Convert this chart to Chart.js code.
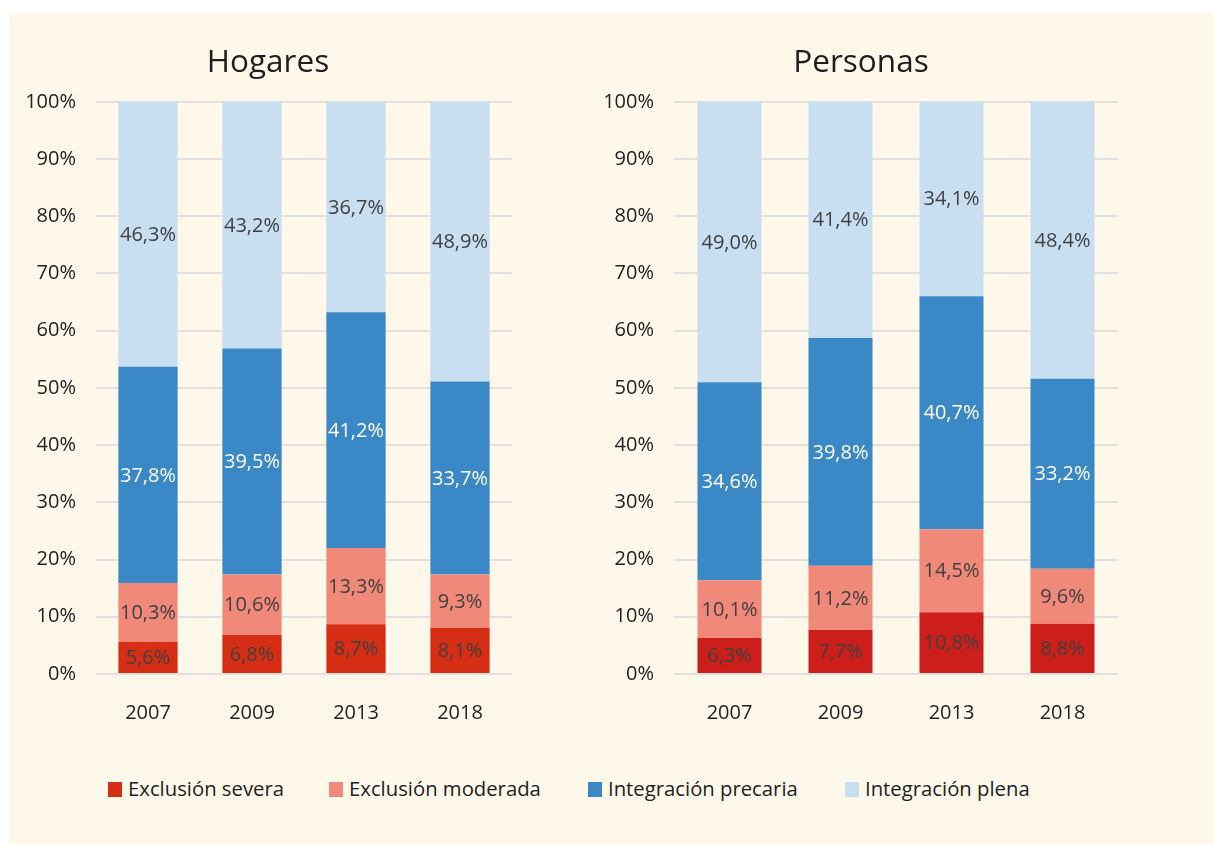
<!DOCTYPE html>
<html lang="es">
<head>
<meta charset="utf-8">
<title>Hogares y Personas</title>
<script src="https://cdn.jsdelivr.net/npm/chart.js@4.4.0/dist/chart.umd.js"></script>
<style>
  body { margin: 0; background: #ffffff; font-family: "Open Sans", sans-serif; }
  #panel { position: absolute; left: 9px; top: 13px; width: 1205px; height: 831px; background: #fef8eb; }
  .box { position: absolute; }
  #legend { position: absolute; top: 774px; left: 0; width: 1214px; height: 28px; font-size: 20.3px; color: #222; }
  .item { position: absolute; top: 0; line-height: 28px; white-space: nowrap; }
  .sw { display: inline-block; width: 14px; height: 15px; margin-right: 6px; vertical-align: -1px; }
</style>
</head>
<body>
<div id="panel"></div>
<div class="box" style="left:24px; top:20px; width:504px; height:720px;"><canvas id="hogares"></canvas></div>
<div class="box" style="left:604px; top:20px; width:528px; height:720px;"><canvas id="personas"></canvas></div>
<div id="legend"></div>

<script>
// Data
const years = ['2007', '2009', '2013', '2018'];
const seriesNames = ['Exclusión severa', 'Exclusión moderada', 'Integración precaria', 'Integración plena'];

const hogaresSevera = [5.6, 6.8, 8.7, 8.1];
const hogaresModerada = [10.3, 10.6, 13.3, 9.3];
const hogaresPrecaria = [37.8, 39.5, 41.2, 33.7];
const hogaresPlena = [46.3, 43.2, 36.7, 48.9];

const personasSevera = [6.3, 7.7, 10.8, 8.8];
const personasModerada = [10.1, 11.2, 14.5, 9.6];
const personasPrecaria = [34.6, 39.8, 40.7, 33.2];
const personasPlena = [49.0, 41.4, 34.1, 48.4];

const yTicks = [0, 10, 20, 30, 40, 50, 60, 70, 80, 90, 100];

// Colours
const colorModerada = '#f08979';
const colorPrecaria = '#3a89c6';
const colorPlena = '#c8dff2';
const labelDark = '#404040';

const FONT = '"Open Sans", sans-serif';

// Value labels centred in every segment
const segmentLabels = {
    id: 'segmentLabels',
    afterDatasetsDraw(chart) {
        const ctx = chart.ctx;
        ctx.save();
        ctx.font = '20px ' + FONT;
        ctx.textAlign = 'center';
        ctx.textBaseline = 'middle';
        chart.data.datasets.forEach((ds, i) => {
            const meta = chart.getDatasetMeta(i);
            meta.data.forEach((bar, j) => {
                const v = ds.data[j];
                const y = (bar.y + bar.base) / 2;
                ctx.fillStyle = ds.labelColor;
                ctx.fillText(v.toFixed(1).replace('.', ',') + '%', bar.x, y + 1);
            });
        });
        ctx.restore();
    }
};

function makeChart(id, title, severaColor, severa, moderada, precaria, plena, barPct, yWidth, padRight) {
    const values = [severa, moderada, precaria, plena];
    const colors = [severaColor, colorModerada, colorPrecaria, colorPlena];
    const labelColors = [labelDark, labelDark, '#ffffff', labelDark];
    return new Chart(document.getElementById(id), {
        type: 'bar',
        data: {
            labels: years,
            datasets: values.map((d, i) => ({
                label: seriesNames[i],
                data: d,
                backgroundColor: colors[i],
                labelColor: labelColors[i],
                borderWidth: 0,
                categoryPercentage: 1,
                barPercentage: barPct
            }))
        },
        options: {
            responsive: true,
            maintainAspectRatio: false,
            animation: false,
            layout: { padding: { left: 0, right: padRight, top: 0, bottom: 0 } },
            plugins: {
                legend: { display: false },
                tooltip: { enabled: false },
                title: {
                    display: true,
                    text: title,
                    color: '#1e1e1e',
                    font: { family: FONT, size: 31.5, weight: 'normal' },
                    padding: { top: 24, bottom: 20 }
                }
            },
            scales: {
                x: {
                    stacked: true,
                    grid: { display: false },
                    border: { display: false },
                    ticks: { color: '#222', font: { family: FONT, size: 20 }, padding: 19 },
                    afterFit(scale) { scale.height = 66; }
                },
                y: {
                    stacked: true,
                    min: 0,
                    max: 100,
                    afterBuildTicks(scale) { scale.ticks = yTicks.map(v => ({ value: v })); },
                    grid: { color: '#e2e0dc', lineWidth: 2, drawTicks: false },
                    border: { display: false },
                    ticks: {
                        color: '#222',
                        font: { family: FONT, size: 20 },
                        padding: 20,
                        callback: v => v + '%'
                    },
                    afterFit(scale) { scale.width = yWidth; }
                }
            }
        },
        plugins: [segmentLabels]
    });
}

makeChart('hogares', 'Hogares', '#d62e14', hogaresSevera, hogaresModerada, hogaresPrecaria, hogaresPlena, 0.57, 72, 16);
makeChart('personas', 'Personas', '#cc1f1b', personasSevera, personasModerada, personasPrecaria, personasPlena, 0.577, 70, 14);

// Shared legend
const legendColors = ['#d62e14', colorModerada, colorPrecaria, colorPlena];
const legendX = [108, 329, 588, 845];
const legend = document.getElementById('legend');
seriesNames.forEach((name, i) => {
    const item = document.createElement('div');
    item.className = 'item';
    item.style.left = legendX[i] + 'px';
    item.innerHTML = '<span class="sw" style="background:' + legendColors[i] + '"></span>' + name;
    legend.appendChild(item);
});
</script>
</body>
</html>
